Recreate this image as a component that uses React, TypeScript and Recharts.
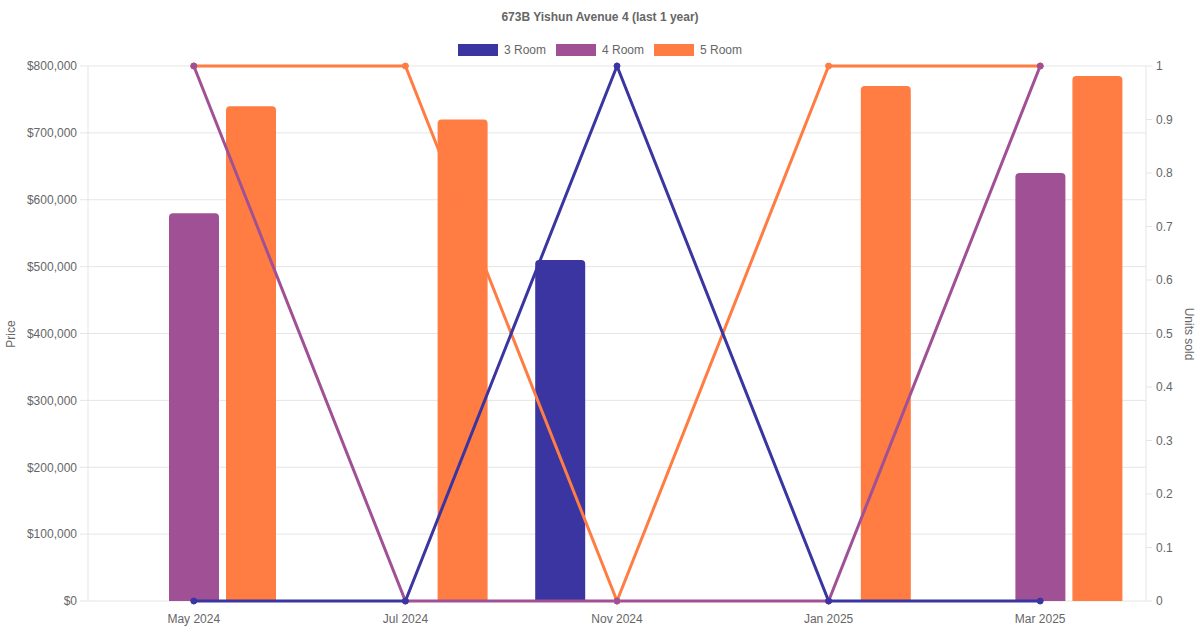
import React from 'react';
import { ComposedChart, Bar, Line, XAxis, YAxis, CartesianGrid } from 'recharts';

const categories = ['May 2024', 'Jul 2024', 'Nov 2024', 'Jan 2025', 'Mar 2025'];
const price3Room = [null, null, 510000, null, null];
const price4Room = [580000, null, null, null, 640000];
const price5Room = [740000, 720000, null, 770000, 785000];
const units3Room = [0, 0, 1, 0, 0];
const units4Room = [1, 0, 0, 0, 1];
const units5Room = [1, 1, 0, 1, 1];
const priceTicks = [0, 100000, 200000, 300000, 400000, 500000, 600000, 700000, 800000];
const unitTicks = [0, 0.1, 0.2, 0.3, 0.4, 0.5, 0.6, 0.7, 0.8, 0.9, 1];
const seriesNames = ['3 Room', '4 Room', '5 Room'];
const seriesColors = ['#3a35a0', '#a05195', '#ff7c43'];

const data = categories.map((c, i) => ({
  cat: c,
  p3: price3Room[i],
  p4: price4Room[i],
  p5: price5Room[i],
  u3: units3Room[i],
  u4: units4Room[i],
  u5: units5Room[i],
}));

const FONT = '"Liberation Sans", Arial, Helvetica, sans-serif';
const TEXT = '#666';
const GRID = '#e5e5e5';

const fmtPrice = (v: number) => '$' + v.toLocaleString('en-US');
const fmtUnits = (v: number) => String(Math.round(v * 10) / 10);

export default function App() {
  return (
    <div style={{ position: 'absolute', left: 0, top: 0, width: 1200, height: 630, background: '#fff', fontFamily: FONT }}>
      <div style={{ position: 'absolute', top: 10, left: 0, width: 1200, textAlign: 'center', fontSize: 12, fontWeight: 'bold', color: TEXT }}>
        673B Yishun Avenue 4 (last 1 year)
      </div>
      <div style={{ position: 'absolute', top: 43, left: 0, width: 1200, display: 'flex', justifyContent: 'center', gap: 10, fontSize: 12, color: TEXT }}>
        {seriesNames.map((n, i) => (
          <div key={n} style={{ display: 'flex', alignItems: 'center', height: 14 }}>
            <div style={{ width: 40, height: 12, background: seriesColors[i], marginRight: 6, boxSizing: 'border-box' }} />
            <span>{n}</span>
          </div>
        ))}
      </div>
      <ComposedChart width={1200} height={630} data={data} margin={{ top: 66, right: 0, bottom: 0, left: 0 }} barGap={7}>
        <CartesianGrid yAxisId="left" vertical={false} stroke={GRID} />
        <XAxis
          dataKey="cat"
          height={29}
          tickLine={false}
          tickSize={0}
          tickMargin={13}
          axisLine={false}
          tick={{ fill: TEXT, fontSize: 12, fontFamily: FONT }}
        />
        <YAxis
          yAxisId="left"
          width={88}
          domain={[0, 800000]}
          ticks={priceTicks}
          tickFormatter={fmtPrice}
          tickSize={8}
          tickMargin={3}
          axisLine={{ stroke: GRID }}
          tickLine={{ stroke: GRID }}
          tick={{ fill: TEXT, fontSize: 12, fontFamily: FONT }}
          label={() => (
            <text x={15} y={334} transform="rotate(-90 15 334)" textAnchor="middle" fill={TEXT} fontSize={12} fontFamily={FONT}>
              Price
            </text>
          )}
        />
        <YAxis
          yAxisId="right"
          orientation="right"
          width={54}
          domain={[0, 1]}
          ticks={unitTicks}
          tickFormatter={fmtUnits}
          tickSize={6}
          tickMargin={4}
          axisLine={{ stroke: GRID }}
          tickLine={{ stroke: GRID }}
          tick={{ fill: TEXT, fontSize: 12, fontFamily: FONT }}
          label={() => (
            <text x={1185} y={334} transform="rotate(90 1185 334)" textAnchor="middle" fill={TEXT} fontSize={12} fontFamily={FONT}>
              Units sold
            </text>
          )}
        />
        <Bar yAxisId="left" dataKey="p3" name={seriesNames[0]} fill={seriesColors[0]} barSize={50} radius={[4, 4, 0, 0]} isAnimationActive={false} />
        <Bar yAxisId="left" dataKey="p4" name={seriesNames[1]} fill={seriesColors[1]} barSize={50} radius={[4, 4, 0, 0]} isAnimationActive={false} />
        <Bar yAxisId="left" dataKey="p5" name={seriesNames[2]} fill={seriesColors[2]} barSize={50} radius={[4, 4, 0, 0]} isAnimationActive={false} />
        <Line yAxisId="right" type="linear" dataKey="u5" name={seriesNames[2]} stroke={seriesColors[2]} strokeWidth={3} dot={{ r: 3, fill: seriesColors[2], stroke: seriesColors[2], strokeWidth: 1 }} activeDot={false} isAnimationActive={false} />
        <Line yAxisId="right" type="linear" dataKey="u4" name={seriesNames[1]} stroke={seriesColors[1]} strokeWidth={3} dot={{ r: 3, fill: seriesColors[1], stroke: seriesColors[1], strokeWidth: 1 }} activeDot={false} isAnimationActive={false} />
        <Line yAxisId="right" type="linear" dataKey="u3" name={seriesNames[0]} stroke={seriesColors[0]} strokeWidth={3} dot={{ r: 3, fill: seriesColors[0], stroke: seriesColors[0], strokeWidth: 1 }} activeDot={false} isAnimationActive={false} />
      </ComposedChart>
    </div>
  );
}
